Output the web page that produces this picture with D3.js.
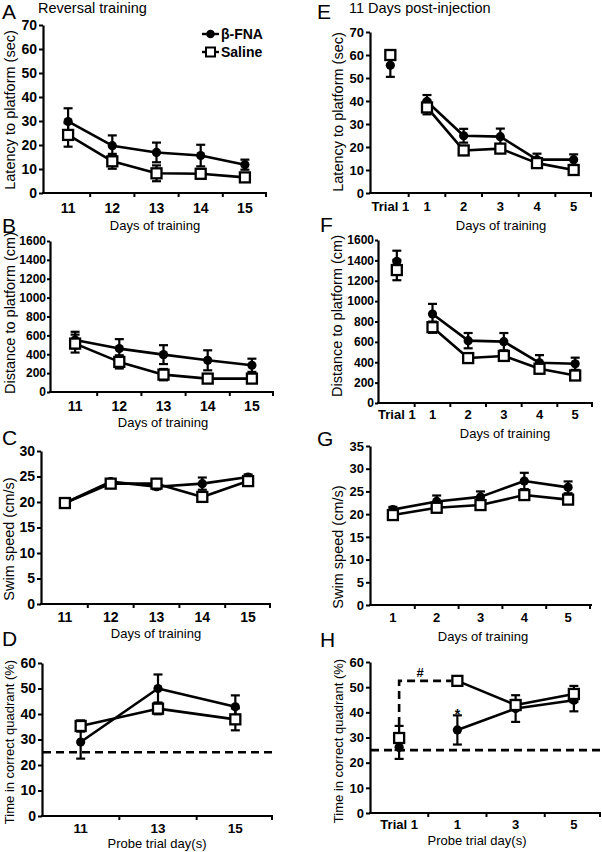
<!DOCTYPE html>
<html><head><meta charset="utf-8">
<script src="https://cdn.jsdelivr.net/npm/d3@7"></script>
<style>body{margin:0;background:#fff} text{font-family:"Liberation Sans",Arial,sans-serif;fill:#000}</style>
</head><body><svg id="c" width="602" height="852"></svg>
<script>
// ---- categories ----
const daysRev = ["11","12","13","14","15"];
const probeRev = ["11","13","15"];
const daysPost = ["Trial 1","1","2","3","4","5"];
const daysSwimPost = ["1","2","3","4","5"];
const probePost = ["Trial 1","1","3","5"];
// ---- A: latency, reversal ----
const latRevFNA = [29.8, 19.7, 16.9, 15.6, 11.8];
const latRevFNAsem = [5.5, 4.3, 4.1, 4.5, 2.1];
const latRevSal = [24.2, 13.2, 8.2, 8.0, 6.5];
const latRevSalsem = [4.9, 3.1, 3.3, 1.0, 1.0];
// ---- B: distance, reversal ----
const distRevFNA = [550, 460, 396, 336, 283];
const distRevFNAsem = [88, 100, 100, 106, 70];
const distRevSal = [513, 319, 184, 142, 142];
const distRevSalsem = [95, 70, 60, 20, 20];
// ---- C: swim speed, reversal ----
const swimRevFNA = [19.8, 24.0, 23.0, 23.6, 24.9];
const swimRevFNAsem = [0.5, 0.5, 0.5, 1.2, 0.5];
const swimRevSal = [19.8, 23.6, 23.6, 21.0, 24.1];
const swimRevSalsem = [0.5, 0.5, 0.5, 0.5, 0.5];
// ---- D: probe, reversal ----
const probeRevFNA = [29.0, 50.0, 42.8];
const probeRevFNAsem = [6.5, 5.5, 4.5];
const probeRevSal = [35.3, 42.1, 37.9];
const probeRevSalsem = [2.2, 2.2, 4.3];
// ---- E: latency, post-injection ----
const latPostFNA = [55.5, 39.8, 24.9, 24.5, 14.5, 14.5];
const latPostFNAsem = [5.0, 2.8, 3.0, 3.5, 2.6, 2.3];
const latPostSal = [60.0, 37.2, 18.5, 19.3, 13.0, 10.0];
const latPostSalsem = [1.0, 3.0, 1.5, 1.0, 1.0, 1.0];
// ---- F: distance, post-injection ----
const distPostFNA = [1390, 873, 612, 602, 395, 385];
const distPostFNAsem = [105, 100, 75, 85, 75, 60];
const distPostSal = [1305, 744, 441, 462, 336, 270];
const distPostSalsem = [100, 55, 30, 30, 30, 30];
// ---- G: swim speed, post-injection ----
const swimPostFNA = [21.0, 22.8, 23.8, 27.3, 25.9];
const swimPostFNAsem = [0.6, 1.3, 1.2, 1.8, 1.3];
const swimPostSal = [19.8, 21.4, 22.0, 24.2, 23.2];
const swimPostSalsem = [0.5, 0.5, 0.5, 0.5, 0.5];
// ---- H: probe, post-injection ----
const probePostFNA = [26.1, 33.0, 41.5, 44.8];
const probePostFNAsem = [4.6, 5.8, 5.3, 4.4];
const probePostSal = [29.8, 52.5, 42.9, 47.3];
const probePostSalsem = [4.8, 1.0, 2.0, 3.2];
const chanceLevel = 25;
const hBracketLevel = 52.5;

const svg = d3.select("#c");
const FONT = '"Liberation Sans",Arial,sans-serif';

function panel(cfg) {
  const g = svg.append("g");
  const x = d3.scaleBand().domain(cfg.cats).range(cfg.band);
  const y = d3.scaleLinear().domain([0, cfg.yMax]).range([cfg.yBot, cfg.yTop]);
  const cx = c => x(c) + x.bandwidth() / 2;

  // y axis
  const ya = g.append("g").attr("transform", `translate(${cfg.axisX},0)`)
    .call(d3.axisLeft(y).tickValues(d3.range(0, cfg.yMax + 1e-9, cfg.yStep))
      .tickFormat(d3.format("d"))
      .tickSize(cfg.ytick).tickSizeOuter(0).tickPadding(cfg.ypad));
  ya.select(".domain").attr("stroke", "#000").attr("stroke-width", 2.2);
  ya.selectAll(".tick line").attr("stroke", "#000").attr("stroke-width", 2);
  ya.selectAll("text").attr("font-size", cfg.yfs).attr("font-weight", "bold").attr("fill", "#000").attr("font-family", FONT);

  // x axis labels
  const xa = g.append("g").attr("transform", `translate(0,${cfg.yBot})`)
    .call(d3.axisBottom(x).tickSize(0).tickPadding(cfg.xpad));
  xa.select(".domain").remove();
  xa.selectAll("text").attr("font-size", cfg.xfs).attr("font-weight", "bold").attr("fill", "#000").attr("font-family", FONT);
  // x axis line
  g.append("line").attr("x1", cfg.axisX - 1).attr("x2", cfg.axisEnd)
    .attr("y1", cfg.yBot).attr("y2", cfg.yBot).attr("stroke", "#000").attr("stroke-width", 2.2);
  // boundary ticks
  g.selectAll(".bt").data(cfg.cats).enter().append("line")
    .attr("x1", d => Math.min(x(d) + x.bandwidth(), cfg.axisEnd - 1))
    .attr("x2", d => Math.min(x(d) + x.bandwidth(), cfg.axisEnd - 1))
    .attr("y1", cfg.yBot).attr("y2", cfg.yBot + 4)
    .attr("stroke", "#000").attr("stroke-width", 2);

  // titles
  g.append("text").attr("x", cfg.xtX).attr("y", cfg.xtY).attr("text-anchor", "middle")
    .attr("font-size", cfg.xtfs).text(cfg.xTitle);
  g.append("text").attr("transform", `translate(${cfg.ytX},${cfg.ytY}) rotate(-90)`)
    .attr("text-anchor", "middle").attr("font-size", cfg.ytfs).text(cfg.yTitle);
  g.append("text").attr("x", cfg.letX).attr("y", cfg.letY).attr("font-size", 21).text(cfg.letter);

  // chance line
  if (cfg.chance !== undefined) {
    g.append("line").attr("x1", cfg.axisX + 1).attr("x2", cfg.chanceEnd)
      .attr("y1", y(cfg.chance)).attr("y2", y(cfg.chance))
      .attr("stroke", "#000").attr("stroke-width", 2.6).attr("stroke-dasharray", "8,5");
  }

  const series = [
    { v: cfg.fna, e: cfg.fnaErr, type: "circle" },
    { v: cfg.sal, e: cfg.salErr, type: "square" }
  ];
  const from = cfg.lineFrom || 0;
  const line = d3.line().x(d => cx(d.c)).y(d => y(d.v));
  series.forEach(s => {
    const pts = cfg.cats.map((c, i) => ({ c, v: s.v[i] })).slice(from);
    g.append("path").attr("d", line(pts)).attr("fill", "none")
      .attr("stroke", "#000").attr("stroke-width", 2.6).attr("stroke-linejoin", "round");
  });
  series.forEach(s => {
    cfg.cats.forEach((c, i) => {
      const lo = y(s.v[i] - s.e[i]), hi = y(s.v[i] + s.e[i]), xx = cx(c);
      g.append("line").attr("x1", xx).attr("x2", xx).attr("y1", lo).attr("y2", hi)
        .attr("stroke", "#000").attr("stroke-width", 2.2);
      [lo, hi].forEach(yy => g.append("line").attr("x1", xx - 4.5).attr("x2", xx + 4.5)
        .attr("y1", yy).attr("y2", yy).attr("stroke", "#000").attr("stroke-width", 2.2));
    });
  });
  series.forEach(s => {
    cfg.cats.forEach((c, i) => {
      const xx = cx(c), yy = y(s.v[i]);
      if (s.type === "circle") {
        g.append("circle").attr("cx", xx).attr("cy", yy).attr("r", 4.6).attr("fill", "#000");
      } else {
        g.append("rect").attr("x", xx - 5).attr("y", yy - 5).attr("width", 10).attr("height", 10)
          .attr("fill", "#fff").attr("stroke", "#000").attr("stroke-width", 2.3);
      }
    });
  });
  return { g, x, y, cx };
}

// A
panel({ letter: "A", letX: 2, letY: 19, cats: daysRev, fna: latRevFNA, fnaErr: latRevFNAsem, sal: latRevSal, salErr: latRevSalsem,
  yMax: 70, yStep: 10, axisX: 43, axisEnd: 267, band: [46, 267], yTop: 25, yBot: 193,
  ytick: 4, ypad: 2, yfs: 14, xfs: 14, xpad: 10,
  xTitle: "Days of training", xtX: 155, xtY: 230, xtfs: 13,
  yTitle: "Latency to platform (sec)", ytX: 15, ytY: 110, ytfs: 14.5 });
// B
panel({ letter: "B", letX: 2, letY: 233, cats: daysRev, fna: distRevFNA, fnaErr: distRevFNAsem, sal: distRevSal, salErr: distRevSalsem,
  yMax: 1600, yStep: 200, axisX: 50, axisEnd: 274, band: [53, 274], yTop: 241, yBot: 392,
  ytick: 3, ypad: 1, yfs: 12, xfs: 14, xpad: 9,
  xTitle: "Days of training", xtX: 163, xtY: 427, xtfs: 13,
  yTitle: "Distance to platform (cm)", ytX: 15, ytY: 313, ytfs: 14.5 });
// C
panel({ letter: "C", letX: 2, letY: 445, cats: daysRev, fna: swimRevFNA, fnaErr: swimRevFNAsem, sal: swimRevSal, salErr: swimRevSalsem,
  yMax: 30, yStep: 5, axisX: 41, axisEnd: 271, band: [42, 271], yTop: 451, yBot: 604,
  ytick: 4, ypad: 2, yfs: 14, xfs: 14, xpad: 8,
  xTitle: "Days of training", xtX: 156, xtY: 638, xtfs: 13,
  yTitle: "Swim speed (cm/s)", ytX: 14, ytY: 539, ytfs: 14.5 });
// D
panel({ letter: "D", letX: 2, letY: 646, cats: probeRev, fna: probeRevFNA, fnaErr: probeRevFNAsem, sal: probeRevSal, salErr: probeRevSalsem,
  yMax: 60, yStep: 10, axisX: 42, axisEnd: 273, band: [42, 274], yTop: 663, yBot: 816,
  ytick: 4, ypad: 2, yfs: 14, xfs: 13.5, xpad: 7,
  chance: chanceLevel, chanceEnd: 273,
  xTitle: "Probe trial day(s)", xtX: 157, xtY: 848, xtfs: 13,
  yTitle: "Time in correct quadrant (%)", ytX: 14, ytY: 742, ytfs: 13 });
// E
panel({ letter: "E", letX: 317, letY: 19, cats: daysPost, fna: latPostFNA, fnaErr: latPostFNAsem, sal: latPostSal, salErr: latPostSalsem,
  lineFrom: 1,
  yMax: 70, yStep: 10, axisX: 370, axisEnd: 592, band: [372, 592], yTop: 32, yBot: 193,
  ytick: 4, ypad: 2, yfs: 13, xfs: 13, xpad: 9,
  xTitle: "Days of training", xtX: 501, xtY: 230, xtfs: 13,
  yTitle: "Latency to platform (sec)", ytX: 343, ytY: 112, ytfs: 14.5 });
// F
panel({ letter: "F", letX: 320, letY: 232, cats: daysPost, fna: distPostFNA, fnaErr: distPostFNAsem, sal: distPostSal, salErr: distPostSalsem,
  lineFrom: 1,
  yMax: 1600, yStep: 200, axisX: 378, axisEnd: 593, band: [379, 593], yTop: 240, yBot: 403,
  ytick: 3, ypad: 1, yfs: 12, xfs: 13, xpad: 7,
  xTitle: "Days of training", xtX: 505, xtY: 438, xtfs: 13,
  yTitle: "Distance to platform (cm)", ytX: 342, ytY: 316, ytfs: 14.5 });
// G
panel({ letter: "G", letX: 317, letY: 446, cats: daysSwimPost, fna: swimPostFNA, fnaErr: swimPostFNAsem, sal: swimPostSal, salErr: swimPostSalsem,
  yMax: 35, yStep: 5, axisX: 370, axisEnd: 592, band: [371, 590], yTop: 446, yBot: 605,
  ytick: 4, ypad: 2, yfs: 13, xfs: 13, xpad: 8,
  xTitle: "Days of training", xtX: 483, xtY: 641, xtfs: 13,
  yTitle: "Swim speed (cm/s)", ytX: 343, ytY: 547, ytfs: 14.5 });
// H
const pH = panel({ letter: "H", letX: 320, letY: 647, cats: probePost, fna: probePostFNA, fnaErr: probePostFNAsem, sal: probePostSal, salErr: probePostSalsem,
  lineFrom: 1,
  yMax: 60, yStep: 10, axisX: 370, axisEnd: 601, band: [370, 603], yTop: 662, yBot: 813,
  ytick: 4, ypad: 2, yfs: 13, xfs: 13, xpad: 7,
  chance: chanceLevel, chanceEnd: 601,
  xTitle: "Probe trial day(s)", xtX: 477, xtY: 845, xtfs: 13,
  yTitle: "Time in correct quadrant (%)", ytX: 343, ytY: 741, ytfs: 13 });

// H annotations
{
  const { g, y, cx } = pH;
  const xT = cx("Trial 1"), x1 = cx("1");
  const yb = y(hBracketLevel);
  g.append("path")
    .attr("d", `M${xT},${y(probePostSal[0] + probePostSalsem[0]) - 1}V${yb}H${x1 - 6}`)
    .attr("fill", "none").attr("stroke", "#000").attr("stroke-width", 2.6).attr("stroke-dasharray", "8,5");
  g.append("text").attr("x", xT + 21).attr("y", yb - 4).attr("text-anchor", "middle")
    .attr("font-size", 13).attr("font-weight", "bold").text("#");
  g.append("text").attr("x", x1).attr("y", y(probePostFNA[1] + probePostFNAsem[1]) + 4).attr("text-anchor", "middle")
    .attr("font-size", 14).attr("font-weight", "bold").text("*");
}

// Titles
svg.append("text").attr("x", 38).attr("y", 13).attr("font-size", 14.5).text("Reversal training");
svg.append("text").attr("x", 349).attr("y", 13).attr("font-size", 14.5).text("11 Days post-injection");

// Legend
{
  const lg = svg.append("g");
  const items = [{ name: "β-FNA", type: "circle", yy: 34 }, { name: "Saline", type: "square", yy: 52 }];
  items.forEach(it => {
    lg.append("line").attr("x1", 202).attr("x2", 219).attr("y1", it.yy).attr("y2", it.yy)
      .attr("stroke", "#000").attr("stroke-width", 2.4);
    if (it.type === "circle") lg.append("circle").attr("cx", 210.5).attr("cy", it.yy).attr("r", 4.3).attr("fill", "#000");
    else lg.append("rect").attr("x", 206).attr("y", it.yy - 4.5).attr("width", 9).attr("height", 9)
      .attr("fill", "#fff").attr("stroke", "#000").attr("stroke-width", 2);
    lg.append("text").attr("x", 221).attr("y", it.yy + 5).attr("font-size", 14).attr("font-weight", "bold").text(it.name);
  });
}
</script></body></html>
